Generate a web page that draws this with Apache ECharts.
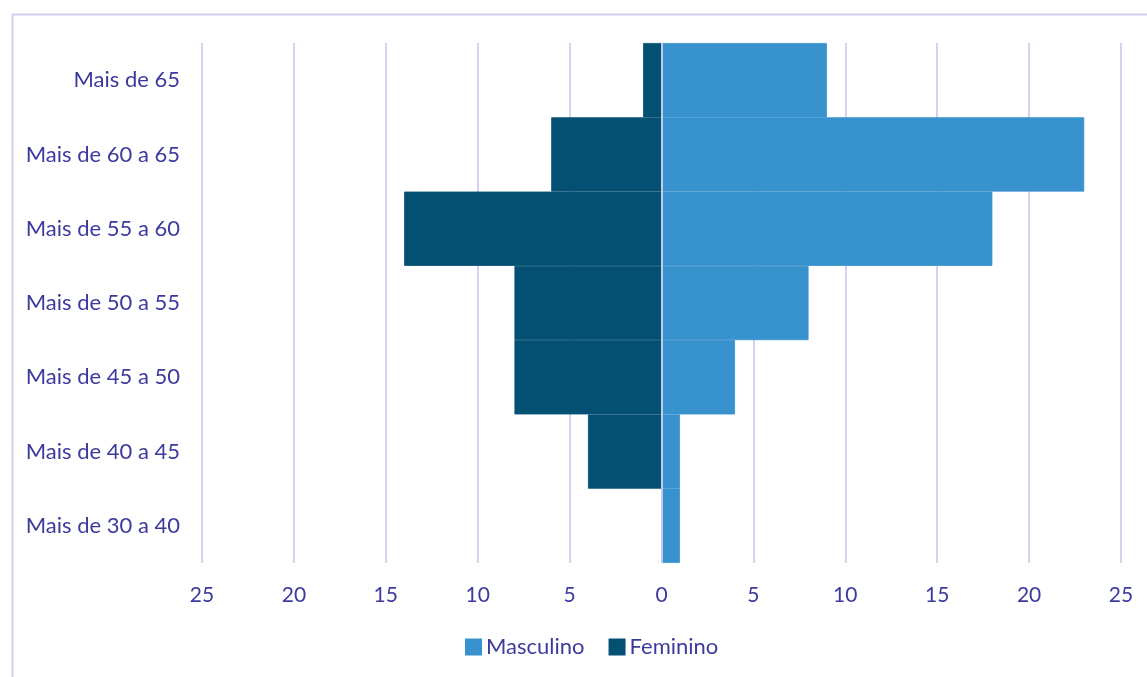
<!DOCTYPE html>
<html><head><meta charset="utf-8">
<script src="https://cdn.jsdelivr.net/npm/echarts@6/dist/echarts.min.js"></script>
<style>html,body{margin:0;padding:0;background:#fff}#c{width:1147px;height:677px}</style>
</head><body><div id="c"></div>
<script>
const categories = ['Mais de 30 a 40','Mais de 40 a 45','Mais de 45 a 50','Mais de 50 a 55','Mais de 55 a 60','Mais de 60 a 65','Mais de 65'];
const masculino = [1, 1, 4, 8, 18, 23, 9];
const feminino = [0, 4, 8, 8, 14, 6, 1];
const textColor = '#3d3a9e';
const gridColor = '#d5d1f0';
const chart = echarts.init(document.getElementById('c'), null, {renderer:'canvas'});
chart.setOption({
  animation:false,
  textStyle:{fontFamily:'Lato'},
  graphic:[{type:'rect',left:10,top:12,shape:{width:1160,height:700},style:{fill:'none',stroke:'#d2cef0',lineWidth:2},silent:true}],
  grid:{left:202,right:26,top:43,bottom:114,containLabel:false},
  legend:{bottom:14,left:460,itemWidth:15,itemHeight:15,itemGap:24,icon:'rect',
    textStyle:{color:textColor,fontSize:22,fontFamily:'Lato'},data:['Masculino','Feminino']},
  xAxis:{type:'value',min:-25,max:25,interval:5,
    axisLine:{show:false},axisTick:{show:false},
    splitLine:{show:true,lineStyle:{color:gridColor,width:2}},
    axisLabel:{color:textColor,fontSize:21,margin:22,fontFamily:'Lato',formatter:v=>Math.abs(v)}},
  yAxis:{type:'category',data:categories,axisLine:{show:false},axisTick:{show:false},
    axisLabel:{color:textColor,fontSize:22,margin:22,fontFamily:'Lato'}},
  series:[
    {name:'Masculino',type:'bar',data:masculino,barCategoryGap:0,barGap:'-100%',
      itemStyle:{color:'#3792ce',borderColor:'#3792ce',borderWidth:0.8},
      markLine:{silent:true,symbol:'none',label:{show:false},lineStyle:{color:'#c9c6ec',width:2,type:'solid'},data:[{xAxis:0}]}},
    {name:'Feminino',type:'bar',data:feminino.map(v=>v===0?null:-v),barCategoryGap:0,barGap:'-100%',
      itemStyle:{color:'#045073',borderColor:'#045073',borderWidth:0.8}}
  ]
});
</script></body></html>
